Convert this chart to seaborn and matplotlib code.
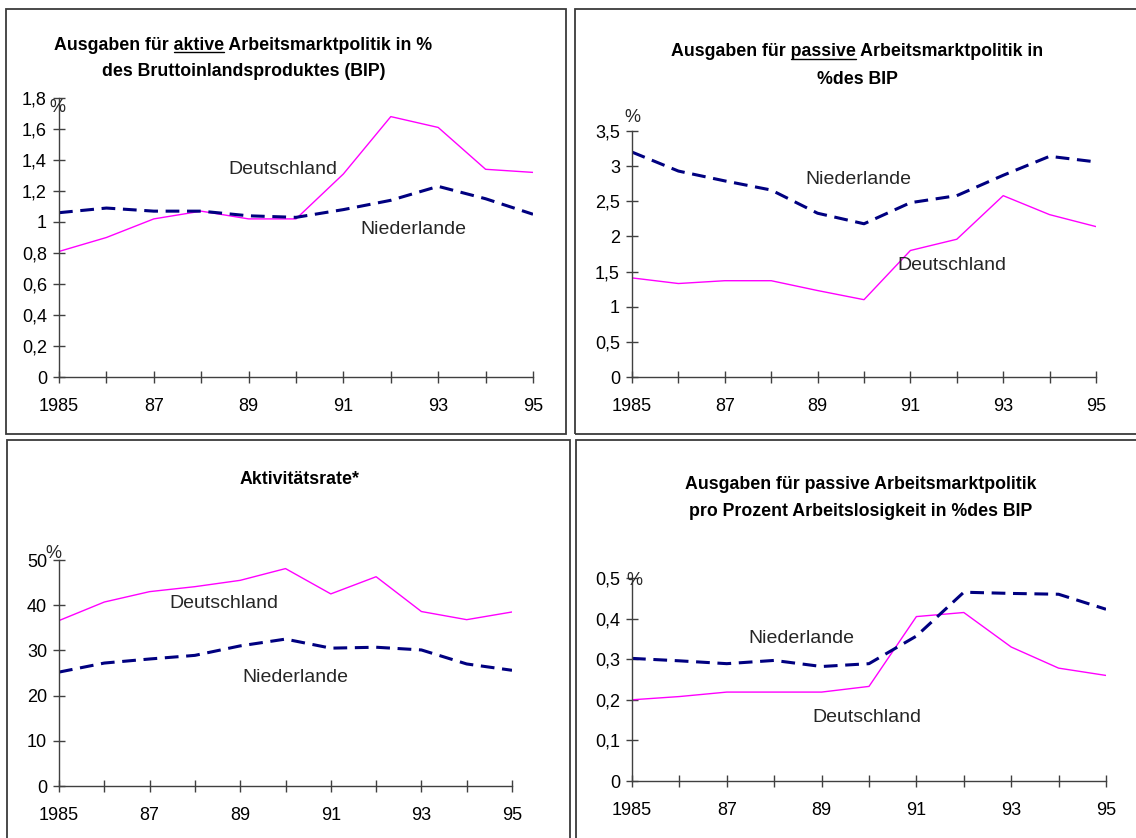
import matplotlib
matplotlib.use('Agg')
import matplotlib.pyplot as plt
import matplotlib.ticker as mticker
from matplotlib.patches import Rectangle
from matplotlib.lines import Line2D
import seaborn as sns
import pandas as pd

# --- data ---
years = [1985, 1986, 1987, 1988, 1989, 1990, 1991, 1992, 1993, 1994, 1995]
year_labels = ['1985', '', '87', '', '89', '', '91', '', '93', '', '95']

aktiv_de = [0.81, 0.90, 1.02, 1.07, 1.02, 1.02, 1.31, 1.68, 1.61, 1.34, 1.32]
aktiv_nl = [1.06, 1.09, 1.07, 1.07, 1.04, 1.03, 1.08, 1.14, 1.23, 1.15, 1.05]

passiv_de = [1.41, 1.33, 1.37, 1.37, 1.23, 1.10, 1.80, 1.96, 2.58, 2.31, 2.14]
passiv_nl = [3.20, 2.93, 2.79, 2.66, 2.33, 2.18, 2.48, 2.58, 2.87, 3.14, 3.06]

rate_de = [36.6, 40.7, 43.0, 44.1, 45.5, 48.1, 42.5, 46.3, 38.6, 36.8, 38.5]
rate_nl = [25.2, 27.2, 28.1, 28.9, 31.0, 32.5, 30.5, 30.7, 30.1, 27.0, 25.6]

pro_de = [0.200, 0.208, 0.219, 0.219, 0.219, 0.233, 0.405, 0.415, 0.330, 0.278, 0.260]
pro_nl = [0.302, 0.296, 0.289, 0.297, 0.282, 0.289, 0.357, 0.465, 0.462, 0.460, 0.423]

sns.set_style('white')
plt.rcParams['font.family'] = ['Liberation Sans', 'DejaVu Sans']

W, H = 1136, 838
fig = plt.figure(figsize=(W / 100, H / 100), dpi=100)
fig.patch.set_facecolor('white')

DE_COLOR = '#ff00ff'
NL_COLOR = '#000080'
AX_COLOR = '#404040'
TITLE_SIZE = 12.8


def px_axes(left, top, right, bottom):
    return fig.add_axes([left / W, 1 - bottom / H, (right - left) / W, (bottom - top) / H])


def box(left, top, right, bottom):
    fig.patches.append(Rectangle((left / W, 1 - bottom / H), (right - left) / W, (bottom - top) / H,
                                 transform=fig.transFigure, fill=False,
                                 edgecolor='#3a3a3a', linewidth=1.3))


def comma_fmt(v, pos):
    return ('%g' % round(v, 3)).replace('.', ',')


def panel(ax, de, nl, ymax, ystep, de_pos, nl_pos, pct_offset):
    df = pd.DataFrame({'Jahr': years, 'Deutschland': de, 'Niederlande': nl})
    sns.lineplot(data=df, x='Jahr', y='Deutschland', ax=ax, color=DE_COLOR, linewidth=1.0)
    sns.lineplot(data=df, x='Jahr', y='Niederlande', ax=ax, color=NL_COLOR, linewidth=2.2,
                 linestyle=(0, (4.5, 2.5)))
    ax.set_xlim(1985, 1995)
    ax.set_ylim(0, ymax)
    ax.set_xticks(years)
    ax.set_xticklabels(year_labels)
    ax.set_yticks([i * ystep for i in range(int(round(ymax / ystep)) + 1)])
    ax.yaxis.set_major_formatter(mticker.FuncFormatter(comma_fmt))
    ax.set_xlabel('')
    ax.set_ylabel('')
    ax.patch.set_alpha(0)
    for s in ['top', 'right']:
        ax.spines[s].set_visible(False)
    for s in ['left', 'bottom']:
        ax.spines[s].set_color(AX_COLOR)
        ax.spines[s].set_linewidth(1.0)
    ax.tick_params(axis='both', which='major', direction='inout', length=8.5, width=1.0,
                   color=AX_COLOR, labelsize=13, labelcolor='black',
                   bottom=True, left=True, top=False, right=False)
    ax.tick_params(axis='x', pad=11)
    ax.tick_params(axis='y', pad=4.4)
    ax.text(de_pos[0], de_pos[1], 'Deutschland', fontsize=14, ha='center', va='center')
    ax.text(nl_pos[0], nl_pos[1], 'Niederlande', fontsize=14, ha='center', va='center')
    ax.annotate('%', xy=(0, 1), xycoords='axes fraction', xytext=pct_offset,
                textcoords='offset points', ha='center', va='center', fontsize=13)


# panel frames
box(6, 9, 566, 434)
box(575, 9, 1145, 434)
box(7, 440, 570, 850)
box(576, 440, 1145, 850)

ax1 = px_axes(59, 98, 533, 377)
panel(ax1, aktiv_de, aktiv_nl, 1.8, 0.2, (1989.73, 1.34), (1992.48, 0.953), (-1.4, -6.5))

ax2 = px_axes(632, 131, 1096, 377)
panel(ax2, passiv_de, passiv_nl, 3.5, 0.5, (1991.89, 1.59), (1989.87, 2.81), (0, 10))

ax3 = px_axes(59, 560, 512, 786)
panel(ax3, rate_de, rate_nl, 50, 10, (1988.65, 40.3), (1990.21, 24.1), (-4.3, 5))

ax4 = px_axes(632, 578, 1106, 781)
panel(ax4, pro_de, pro_nl, 0.5, 0.1, (1989.95, 0.157), (1988.58, 0.35), (1.5, -2))

# titles
TITLE_KW = dict(fontsize=TITLE_SIZE, fontweight='bold', ha='center', va='center', color='black')
titles = [
    (243, 45, 'Ausgaben für aktive Arbeitsmarktpolitik in %', 'Ausgaben für ', 'aktive'),
    (244, 72, 'des Bruttoinlandsproduktes (BIP)', None, None),
    (857, 52, 'Ausgaben für passive Arbeitsmarktpolitik in', 'Ausgaben für ', 'passive'),
    (857, 80, '%des BIP', None, None),
    (300, 479, 'Aktivitätsrate*', None, None),
    (861, 484, 'Ausgaben für passive Arbeitsmarktpolitik', None, None),
    (861, 511, 'pro Prozent Arbeitslosigkeit in %des BIP', None, None),
]
title_objs = []
for x, y, s, prefix, word in titles:
    t = fig.text(x / W, 1 - y / H, s, **TITLE_KW)
    title_objs.append((t, prefix, word))

# underline the highlighted words
fig.canvas.draw()
renderer = fig.canvas.get_renderer()
for t, prefix, word in title_objs:
    if word is None:
        continue
    bb = t.get_window_extent(renderer)
    tmp = fig.text(0, 0, prefix + word, fontsize=TITLE_SIZE, fontweight='bold')
    w_full = tmp.get_window_extent(renderer).width
    tmp.set_text(word)
    w_word = tmp.get_window_extent(renderer).width
    tmp.remove()
    x_end = bb.x0 + w_full
    x_start = x_end - w_word
    y_line = bb.y0 + 1
    fig.lines.append(Line2D([x_start / W, x_end / W], [y_line / H, y_line / H],
                            transform=fig.transFigure, color='black', linewidth=1.0))

fig.savefig('out.png', dpi=100)
